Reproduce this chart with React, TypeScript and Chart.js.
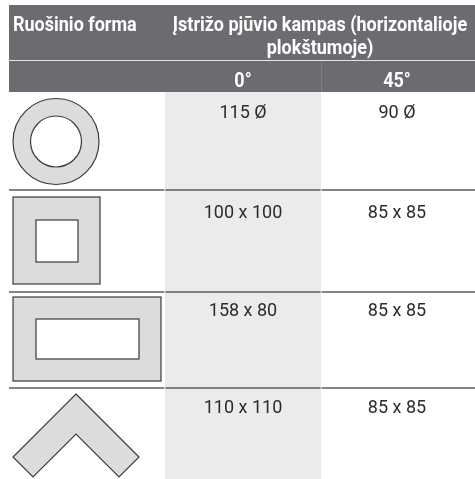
import React, { useEffect, useRef } from "react";
import { Chart, registerables } from "chart.js";

Chart.register(...registerables);

// ---- table content ----
const HEAD_SHAPE = "Ruošinio forma";
const HEAD_ANGLE = ["Įstrižo pjūvio kampas (horizontalioje", "plokštumoje)"];
const ANGLES = ["0°", "45°"];
const SHAPES = ["ring", "square", "rectangle", "angle"];
const CUT_0 = ["115 Ø", "100 x 100", "158 x 80", "110 x 110"];
const CUT_45 = ["90 Ø", "85 x 85", "85 x 85", "85 x 85"];

// ---- layout (in scale units) ----
const XL = { left: 9, c0: 165, c1: 321, right: 475 };
const YL = { top: 5, sep: 60.5, head2: 92, rows: [92, 190, 292, 388, 479] };

const HEAD_BG = "#6b6c70";
const ZEBRA = "#ebebed";
const RULE = "#5c5c5c";
const SHAPE_FILL = "#dcdcde";
const SHAPE_STROKE = "#3a3a3a";
const TEXT = "#2b2b2b";
const BOLD = "bold 20px Roboto, 'Liberation Sans', sans-serif";
const REG = "18px Roboto, 'Liberation Sans', sans-serif";
const K_BOLD = 0.9;

function drawText(
  ctx: CanvasRenderingContext2D,
  s: string,
  x: number,
  y: number,
  align: "left" | "center",
  font: string,
  color: string,
  k: number
) {
  ctx.save();
  ctx.font = font;
  ctx.fillStyle = color;
  ctx.textBaseline = "alphabetic";
  ctx.textAlign = "left";
  const w = ctx.measureText(s).width * k;
  const left = align === "left" ? x : x - w / 2;
  ctx.translate(left, y);
  ctx.scale(k, 1);
  ctx.fillText(s, 0, 0);
  ctx.restore();
}

const tablePlugin = {
  id: "tableDraw",
  afterDraw(chart: any) {
    const ctx: CanvasRenderingContext2D = chart.ctx;
    const sx = (v: number) => chart.scales.x.getPixelForValue(v);
    const sy = (v: number) => chart.scales.y.getPixelForValue(v);

    ctx.save();
    ctx.fillStyle = "#ffffff";
    ctx.fillRect(0, 0, chart.width, chart.height);

    // shaded 0° column
    const rowsTop = YL.rows[0];
    const rowsBot = YL.rows[YL.rows.length - 1];
    ctx.fillStyle = ZEBRA;
    ctx.fillRect(sx(XL.c0), sy(rowsTop), sx(XL.c1) - sx(XL.c0), sy(rowsBot) - sy(rowsTop));

    // header
    ctx.fillStyle = HEAD_BG;
    ctx.fillRect(sx(XL.left), sy(YL.top), sx(XL.right) - sx(XL.left), sy(YL.head2) - sy(YL.top));
    ctx.strokeStyle = "#e4e4e6";
    ctx.lineWidth = 1.2;
    ctx.beginPath();
    ctx.moveTo(sx(XL.left), sy(YL.sep));
    ctx.lineTo(sx(XL.right), sy(YL.sep));
    ctx.stroke();
    ctx.strokeStyle = "#7e7f83";
    ctx.lineWidth = 1;
    ctx.beginPath();
    ctx.moveTo(sx(XL.c1) + 0.5, sy(YL.sep + 1));
    ctx.lineTo(sx(XL.c1) + 0.5, sy(YL.head2));
    ctx.stroke();

    // row rules
    ctx.strokeStyle = RULE;
    ctx.lineWidth = 1.5;
    for (let i = 1; i < YL.rows.length - 1; i++) {
      const y = sy(YL.rows[i]);
      const segs = [
        [XL.left, XL.c0 - 0.5],
        [XL.c0 + 0.5, XL.c1 - 0.5],
        [XL.c1 + 0.5, XL.right],
      ];
      for (const [a, b] of segs) {
        ctx.beginPath();
        ctx.moveTo(sx(a), y);
        ctx.lineTo(sx(b), y);
        ctx.stroke();
      }
    }

    // shapes
    ctx.fillStyle = SHAPE_FILL;
    ctx.strokeStyle = SHAPE_STROKE;
    ctx.lineWidth = 1.2;
    SHAPES.forEach((shape) => {
      ctx.beginPath();
      if (shape === "ring") {
        const cx = sx(56), cy = sy(141.5);
        ctx.arc(cx, cy, 43, 0, Math.PI * 2);
        ctx.moveTo(cx + 25.5, cy);
        ctx.arc(cx, cy, 25.5, 0, Math.PI * 2);
        ctx.fill("evenodd");
        ctx.beginPath();
        ctx.arc(cx, cy, 43, 0, Math.PI * 2);
        ctx.stroke();
        ctx.beginPath();
        ctx.arc(cx, cy, 25.5, 0, Math.PI * 2);
        ctx.stroke();
      } else if (shape === "square" || shape === "rectangle") {
        const o = shape === "square" ? [13, 197, 100, 284] : [13, 297, 161, 381];
        const n = shape === "square" ? [36, 220, 78, 262] : [36, 319, 139, 359];
        ctx.fillRect(sx(o[0]), sy(o[1]), sx(o[2]) - sx(o[0]), sy(o[3]) - sy(o[1]));
        ctx.strokeRect(sx(o[0]), sy(o[1]), sx(o[2]) - sx(o[0]), sy(o[3]) - sy(o[1]));
        ctx.fillStyle = "#ffffff";
        ctx.fillRect(sx(n[0]), sy(n[1]), sx(n[2]) - sx(n[0]), sy(n[3]) - sy(n[1]));
        ctx.strokeRect(sx(n[0]), sy(n[1]), sx(n[2]) - sx(n[0]), sy(n[3]) - sy(n[1]));
        ctx.fillStyle = SHAPE_FILL;
      } else {
        const pts = [
          [76, 394], [139, 457], [119, 477], [76, 434], [33, 477], [13, 457],
        ];
        pts.forEach(([px, py], i) => (i ? ctx.lineTo(sx(px), sy(py)) : ctx.moveTo(sx(px), sy(py))));
        ctx.closePath();
        ctx.fill();
        ctx.stroke();
      }
    });

    // header text
    drawText(ctx, HEAD_SHAPE, sx(13), sy(31), "left", BOLD, "#ffffff", K_BOLD);
    const mid = (sx(XL.c0) + sx(XL.right)) / 2;
    drawText(ctx, HEAD_ANGLE[0], mid, sy(31), "center", BOLD, "#ffffff", K_BOLD);
    drawText(ctx, HEAD_ANGLE[1], mid, sy(54), "center", BOLD, "#ffffff", K_BOLD);
    const c0 = (sx(XL.c0) + sx(XL.c1)) / 2;
    const c1 = (sx(XL.c1) + sx(XL.right)) / 2 - 1;
    drawText(ctx, ANGLES[0], c0, sy(87), "center", BOLD, "#ffffff", K_BOLD);
    drawText(ctx, ANGLES[1], c1, sy(87), "center", BOLD, "#ffffff", K_BOLD);

    // body text
    const offs = [26, 28, 24, 25];
    for (let i = 0; i < CUT_0.length; i++) {
      const base = sy(YL.rows[i] + offs[i]);
      drawText(ctx, CUT_0[i], c0, base, "center", REG, TEXT, 1);
      drawText(ctx, CUT_45[i], c1, base, "center", REG, TEXT, 1);
    }
    ctx.restore();
  },
};

export default function App() {
  const ref = useRef<HTMLCanvasElement>(null);
  useEffect(() => {
    const chart = new Chart(ref.current!, {
      type: "scatter",
      data: { datasets: [{ data: [] }] },
      options: {
        animation: false,
        responsive: false,
        devicePixelRatio: 1,
        layout: { padding: 0 },
        plugins: { legend: { display: false }, tooltip: { enabled: false } },
        scales: {
          x: { type: "linear", min: 0, max: 475, display: false },
          y: { type: "linear", min: 0, max: 479, reverse: true, display: false },
        },
      },
      plugins: [tablePlugin],
    });
    return () => chart.destroy();
  }, []);
  return (
    <div style={{ position: "absolute", left: 0, top: 0, width: 475, height: 479 }}>
      <canvas ref={ref} width={475} height={479} style={{ display: "block" }} />
    </div>
  );
}
